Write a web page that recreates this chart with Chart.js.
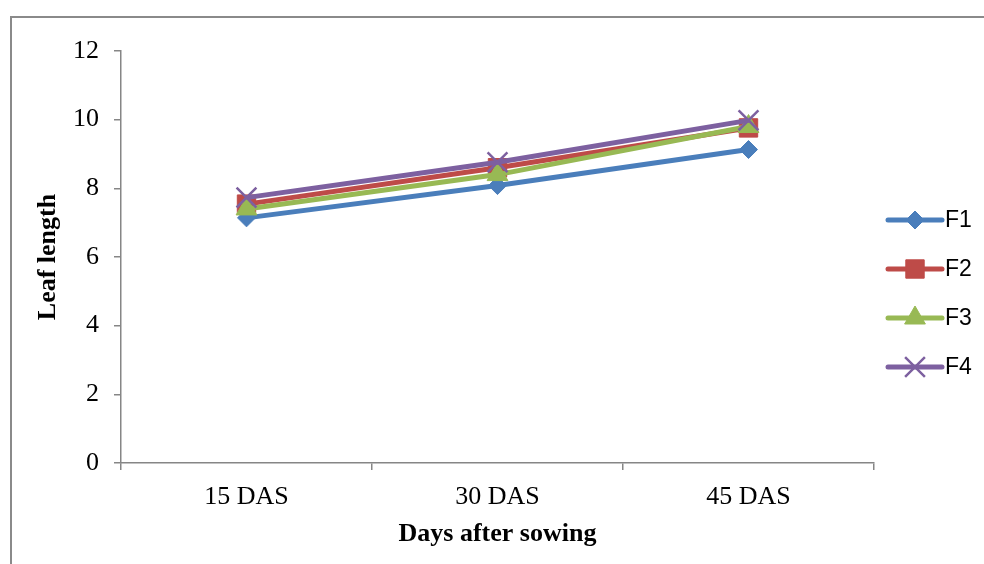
<!DOCTYPE html>
<html>
<head>
<meta charset="utf-8">
<title>Leaf length</title>
<script src="https://cdn.jsdelivr.net/npm/chart.js@4.4.1/dist/chart.umd.min.js"></script>
<style>
  body { margin: 0; background: #fff; overflow: hidden; }
  canvas { display: block; }
</style>
</head>
<body>
<canvas id="chart1" width="984" height="564"></canvas>
<script>
// days after sowing
var stages = ['15 DAS', '30 DAS', '45 DAS'];
var f1 = [7.14, 8.08, 9.13];
var f2 = [7.54, 8.60, 9.76];
var f3 = [7.40, 8.40, 9.80];
var f4 = [7.73, 8.76, 9.98];
var yTicks = [0, 2, 4, 6, 8, 10, 12];

var axisGray = '#868686';
var serif = '"Liberation Serif", "Times New Roman", serif';

function series(label, data, color, style, radius, order) {
  return {
    label: label,
    data: data,
    borderColor: color,
    backgroundColor: color,
    borderWidth: 5,
    pointStyle: style,
    pointRadius: radius,
    pointHoverRadius: radius,
    pointBorderWidth: style === 'crossRot' ? 2.5 : 1,
    pointBorderColor: color,
    pointBackgroundColor: color,
    tension: 0,
    order: order
  };
}

// chart frame: only left and top edges fall inside the canvas
var frame = {
  id: 'frame',
  beforeDraw: function(chart) {
    var ctx = chart.ctx;
    ctx.save();
    ctx.strokeStyle = '#8a8a8a';
    ctx.lineWidth = 2;
    ctx.beginPath();
    ctx.moveTo(11, chart.height + 5);
    ctx.lineTo(11, 17);
    ctx.lineTo(chart.width + 5, 17);
    ctx.stroke();
    ctx.restore();
  }
};

// line + marker legend on the right
var sideLegend = {
  id: 'sideLegend',
  afterDraw: function(chart) {
    var ctx = chart.ctx;
    var x0 = 888, x1 = 942, top = 220, gap = 49;
    chart.data.datasets.forEach(function(ds, i) {
      var y = top + i * gap;
      ctx.save();
      ctx.strokeStyle = ds.borderColor;
      ctx.lineWidth = 5;
      ctx.lineCap = 'round';
      ctx.beginPath();
      ctx.moveTo(x0, y);
      ctx.lineTo(x1, y);
      ctx.stroke();
      ctx.fillStyle = ds.pointBackgroundColor;
      ctx.strokeStyle = ds.pointBorderColor;
      ctx.lineWidth = ds.pointBorderWidth;
      ctx.lineCap = 'butt';
      Chart.helpers.drawPoint(ctx, { pointStyle: ds.pointStyle, radius: ds.pointRadius, borderWidth: ds.pointBorderWidth, rotation: 0 }, (x0 + x1) / 2, y);
      ctx.fillStyle = '#000';
      ctx.font = '23px "Liberation Sans", Arial, sans-serif';
      ctx.textBaseline = 'middle';
      ctx.fillText(ds.label, 945, y + 1);
      ctx.restore();
    });
  }
};

var ctx1 = document.getElementById('chart1').getContext('2d');
var chart1 = new Chart(ctx1, {
  type: 'line',
  data: {
    labels: stages,
    datasets: [
      series('F1', f1, '#4a7ebb', 'rectRot', 9, 3),
      series('F2', f2, '#be4b48', 'rect', 13, 2),
      series('F3', f3, '#98b954', 'triangle', 12, 1),
      series('F4', f4, '#7d60a0', 'crossRot', 14, 0)
    ]
  },
  options: {
    responsive: false,
    animation: false,
    layout: { padding: { top: 51, right: 110, left: 0, bottom: 0 } },
    plugins: {
      legend: { display: false },
      tooltip: { enabled: false }
    },
    scales: {
      x: {
        type: 'category',
        offset: true,
        grid: { offset: true, drawOnChartArea: false, tickLength: 7, color: axisGray, lineWidth: 1.5 },
        border: { color: axisGray, width: 1.5 },
        ticks: { color: '#000', padding: 12, font: { family: serif, size: 26 } },
        title: {
          display: true,
          text: 'Days after sowing',
          color: '#000',
          padding: { top: 0, bottom: 14 },
          font: { family: serif, size: 26, weight: 'bold' }
        },
        afterFit: function(scale) { scale.height = 101; }
      },
      y: {
        min: 0,
        max: 12,
        afterBuildTicks: function(scale) {
          scale.ticks = yTicks.map(function(v) { return { value: v }; });
        },
        grid: { drawOnChartArea: false, tickLength: 7, color: axisGray, lineWidth: 1.5 },
        border: { color: axisGray, width: 1.5 },
        ticks: { color: '#000', padding: 15, font: { family: serif, size: 26 } },
        title: {
          display: true,
          text: 'Leaf length',
          color: '#000',
          padding: { top: 33, bottom: 0 },
          font: { family: serif, size: 26, weight: 'bold' }
        },
        afterFit: function(scale) { scale.width = 121; }
      }
    }
  },
  plugins: [frame, sideLegend]
});
</script>
</body>
</html>
